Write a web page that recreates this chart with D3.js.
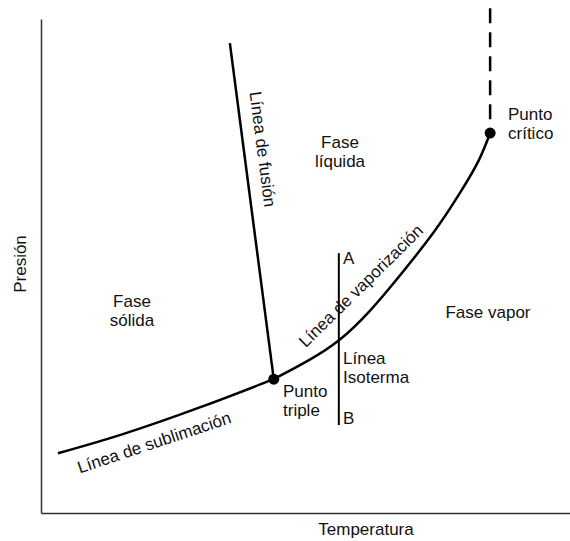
<!DOCTYPE html>
<html>
<head>
<meta charset="utf-8">
<script src="https://cdn.jsdelivr.net/npm/d3@7"></script>
<style>
  body { margin: 0; background: #fff; }
  text { font-family: "Liberation Sans", Arial, sans-serif; font-size: 17px; fill: #111; }
</style>
</head>
<body>
<div id="vis"></div>
<script>
// curves in diagram units (temperature 0-100, pressure 0-100)
const sublimacion = [[3.2, 12.1], [14.9, 15.6], [30.1, 21.3], [44.0, 27.1]];
const vaporizacion = [[44.0, 27.1], [50.9, 31.0], [56.3, 34.6], [62.2, 40.7], [68.4, 48.8], [74.5, 56.9], [79.6, 65.4], [83.0, 71.5], [84.9, 76.9]];
const fusion = [[35.7, 95.1], [44.0, 27.1]];
const isoterma = [[56.3, 52.6], [56.3, 17.8]];
const sobreCritico = [[84.9, 102.2], [84.9, 79.4]];
const puntoTriple = [44.0, 27.1];
const puntoCritico = [84.9, 76.9];

const width = 570, height = 541;
const svg = d3.select('#vis').append('svg')
    .attr('width', width)
    .attr('height', height);

const x = d3.scaleLinear().domain([0, 100]).range([41, 570]);
const y = d3.scaleLinear().domain([0, 100]).range([513, 19]);

// axes, no ticks
svg.append('g')
    .attr('transform', `translate(0,${y(0)})`)
    .call(d3.axisBottom(x).tickValues([]).tickSizeOuter(0))
    .select('.domain').attr('stroke', '#333').attr('stroke-width', 1.5);
svg.append('g')
    .attr('transform', `translate(${x(0)},0)`)
    .call(d3.axisLeft(y).tickValues([]).tickSizeOuter(0))
    .select('.domain').attr('stroke', '#333').attr('stroke-width', 1.5);

const curve = d3.line().x(d => x(d[0])).y(d => y(d[1])).curve(d3.curveBasis);
const straight = d3.line().x(d => x(d[0])).y(d => y(d[1]));

svg.append('path').attr('d', curve(sublimacion))
    .attr('fill', 'none').attr('stroke', '#000').attr('stroke-width', 2.5);
svg.append('path').attr('d', curve(vaporizacion))
    .attr('fill', 'none').attr('stroke', '#000').attr('stroke-width', 2.5);
svg.append('path').attr('d', straight(fusion))
    .attr('fill', 'none').attr('stroke', '#000').attr('stroke-width', 2.5);
svg.append('path').attr('d', straight(isoterma))
    .attr('fill', 'none').attr('stroke', '#000').attr('stroke-width', 2);
svg.append('path').attr('d', straight(sobreCritico))
    .attr('fill', 'none').attr('stroke', '#000').attr('stroke-width', 2.5)
    .attr('stroke-dasharray', '15,9');

svg.selectAll('.punto')
    .data([puntoTriple, puntoCritico])
    .enter().append('circle')
    .attr('class', 'punto')
    .attr('cx', d => x(d[0]))
    .attr('cy', d => y(d[1]))
    .attr('r', 5.5)
    .attr('fill', '#000');

// labels
function label(px, py, lines, anchor, rot) {
    const t = svg.append('text')
        .attr('text-anchor', anchor || 'middle')
        .attr('transform', `translate(${px},${py})` + (rot ? ` rotate(${rot})` : ''));
    lines.forEach((s, i) => {
        t.append('tspan').attr('x', 0).attr('dy', i === 0 ? 0 : 19).text(s);
    });
}

label(132, 307, ['Fase', 'sólida']);
label(340, 148, ['Fase', 'líquida']);
label(488, 318, ['Fase vapor']);
label(508, 120, ['Punto', 'crítico'], 'start');
label(283, 397, ['Punto', 'triple'], 'start');
label(343, 364, ['Línea', 'Isoterma'], 'start');
label(343, 264, ['A'], 'start');
label(343, 424, ['B'], 'start');
label(366, 535, ['Temperatura']);
label(26, 264, ['Presión'], 'middle', -90);
label(257, 150, ['Línea de fusión'], 'middle', 82.6);
label(156, 448, ['Línea de sublimación'], 'middle', -18.5);
label(365, 290, ['Línea de vaporización'], 'middle', -44.5);
</script>
</body>
</html>
